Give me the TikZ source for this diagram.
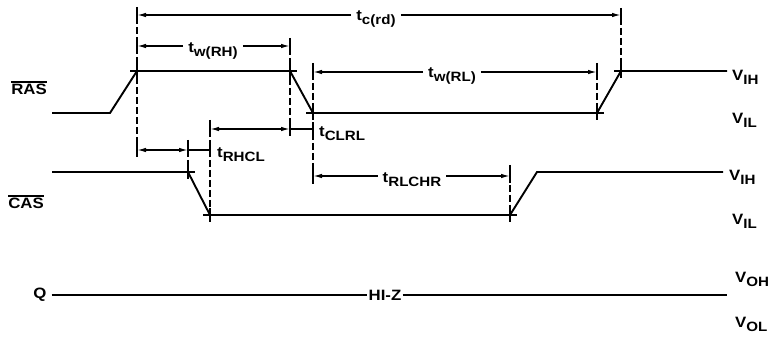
\documentclass[tikz,border=0pt]{standalone}
\usepackage{fontspec}
\setmainfont{Liberation Sans}[FakeStretch=1.12]
\usetikzlibrary{arrows.meta}
\newcommand\lowsub[1]{\raisebox{-4pt}{\fontsize{13.5}{14}\selectfont #1}}
\newcommand\ovl[1]{\leavevmode\vbox{\hrule height 1.3pt\kern 1.6pt\hbox{#1}}}
\begin{document}
\begin{tikzpicture}[x=1pt,y=-1pt,
  wave/.style={line width=1.9pt, line join=miter},
  dimline/.style={line width=1.4pt},
  ext/.style={line width=1.3pt, dash pattern=on 7pt off 3pt},
  tickmark/.style={line width=1.4pt},
  lbl/.style={font=\fontsize{15}{17}\selectfont\bfseries, inner sep=1pt},
  dimlbl/.style={lbl, inner xsep=5pt},
  tip/.style={-{Latex[length=9pt,width=4.5pt]}},
  twotip/.style={{Latex[length=9pt,width=4.5pt]}-{Latex[length=9pt,width=4.5pt]}}
]
\useasboundingbox (0,0) rectangle (772,339);

% ---------- RAS waveform
\coordinate (r0) at (52,113);
\coordinate (r1) at (110,113);
\coordinate (r2) at (137,71);
\coordinate (r3) at (290,71);
\coordinate (r4) at (313,113);
\coordinate (r5) at (597,113);
\coordinate (r6) at (621,71);
\coordinate (r7) at (727,71);
\draw[wave] (r0) -- (r1) -- (r2) -- (r3) -- (r4) -- (r5) -- (r6) -- (r7);

% ---------- CAS waveform
\coordinate (c0) at (52,172);
\coordinate (c1) at (188,172);
\coordinate (c2) at (210,215);
\coordinate (c3) at (510,215);
\coordinate (c4) at (537,172);
\coordinate (c5) at (723,172);
\draw[wave] (c0) -- (c1) -- (c2) -- (c3) -- (c4) -- (c5);

% ---------- Q line
\node[lbl] (q) at (40,295) {Q};
\node[lbl] (hiz) at (385,295) {HI-Z};
\coordinate (qend) at (727,295);
\draw[wave] ([xshift=4pt]q.east) -- (hiz.west);
\draw[wave] (hiz.east) -- (qend);

% ---------- signal names and levels
\node[lbl] (ras) at (29,88) {\ovl{RAS}};
\node[lbl] (cas) at (26,202) {\ovl{CAS}};
\node[lbl, anchor=west] (vih1) at (731,77) {V\lowsub{IH}};
\node[lbl, anchor=west] (vil1) at (731,120) {V\lowsub{IL}};
\node[lbl, anchor=west] (vih2) at (728,177) {V\lowsub{IH}};
\node[lbl, anchor=west] (vil2) at (731,221) {V\lowsub{IL}};
\node[lbl, anchor=west] (voh) at (734,279) {V\lowsub{OH}};
\node[lbl, anchor=west] (vol) at (734,324) {V\lowsub{OL}};

% ---------- extension lines
\draw[ext] (137,7) -- (137,155);
\draw[ext] (290,38) -- (290,135);
\draw[ext] (313,63) -- (313,184);
\draw[ext] (597,63) -- (597,113);
\draw[ext] (621,8) -- (621,71);
\draw[ext] (188,140) -- (188,172);
\draw[ext] (210,120) -- (210,215);
\draw[ext] (510,165) -- (510,215);

% ---------- corner marks
\foreach \p in {r2,r3,r4,r5,r6,c1,c2,c3}{
  \draw[tickmark] ([xshift=-7pt]\p) -- ([xshift=7pt]\p)
                  ([yshift=-7pt]\p) -- ([yshift=7pt]\p);
}

% ---------- t_c(rd)
\coordinate (tcl) at (137,15);
\coordinate (tcr) at (621,15);
\node[dimlbl] (tc) at (376,19) {t\lowsub{c(rd)}};
\draw[dimline,tip] (tc.west|-tcl) -- (tcl);
\draw[dimline,tip] (tc.east|-tcr) -- (tcr);

% ---------- t_w(RH)
\coordinate (twhl) at (137,46);
\coordinate (twhr) at (290,46);
\node[dimlbl] (twh) at (213,51) {t\lowsub{w(RH)}};
\draw[dimline,tip] (twh.west|-twhl) -- (twhl);
\draw[dimline,tip] (twh.east|-twhr) -- (twhr);

% ---------- t_w(RL)
\coordinate (twll) at (313,72);
\coordinate (twlr) at (597,72);
\node[dimlbl] (twl) at (452,76) {t\lowsub{w(RL)}};
\draw[dimline,tip] (twl.west|-twll) -- (twll);
\draw[dimline,tip] (twl.east|-twlr) -- (twlr);

% ---------- t_CLRL
\coordinate (tcll) at (210,129);
\coordinate (tclm) at (290,129);
\coordinate (tclr) at (313,129);
\draw[dimline,twotip] (tcll) -- (tclm);
\draw[dimline] (tclm) -- (tclr);
\node[lbl, anchor=west] (tclrl) at (318,134) {t\lowsub{CLRL}};

% ---------- t_RHCL
\coordinate (trhl) at (137,150);
\coordinate (trhm) at (188,150);
\coordinate (trhr) at (210,150);
\draw[dimline,twotip] (trhl) -- (trhm);
\draw[dimline] (trhm) -- (trhr);
\node[lbl, anchor=west] (trhcl) at (216,155) {t\lowsub{RHCL}};

% ---------- t_RLCHR
\coordinate (trll) at (313,176);
\coordinate (trlr) at (510,176);
\node[dimlbl] (trl) at (412,180) {t\lowsub{RLCHR}};
\draw[dimline,tip] (trl.west|-trll) -- (trll);
\draw[dimline,tip] (trl.east|-trlr) -- (trlr);

% ---------- end ticks of the dimension lines
\foreach \p in {tcl,tcr,twhl,twhr,twll,twlr,tcll,tclm,tclr,trhl,trhm,trhr,trll,trlr}{
  \draw[tickmark] ([yshift=-7pt]\p) -- ([yshift=7pt]\p);
}
\end{tikzpicture}
\end{document}
